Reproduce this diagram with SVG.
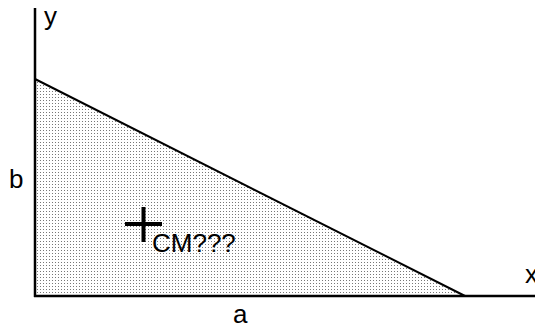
<svg xmlns="http://www.w3.org/2000/svg" width="535" height="327" viewBox="0 0 535 327">
<defs>
<pattern id="dots" x="0" y="0" width="3" height="3" patternUnits="userSpaceOnUse">
<rect x="1" y="1" width="1" height="1" fill="#777"/>
</pattern>
<style>
.lbl{font-family:"Liberation Sans",Arial,sans-serif;font-size:26px;fill:#000}
.ax{stroke:#000;stroke-width:2.5;fill:none}
</style>
</defs>
<rect width="535" height="327" fill="#fff"/>
<g id="triangle">
<polygon points="35,79 35,296 465,296" fill="url(#dots)"/>
<line x1="35" y1="79" x2="465" y2="296" stroke="#000" stroke-width="2"/>
</g>
<g id="connectors">
<line class="ax" x1="35" y1="8" x2="35" y2="297"/>
<line class="ax" x1="34" y1="296" x2="535" y2="296"/>
</g>
<g id="cm">
<path d="M125,224 H162 M143.5,207 V242" stroke="#000" stroke-width="4" fill="none"/>
<text class="lbl" x="152" y="252">CM???</text>
</g>
<g id="labels">
<text class="lbl" x="44" y="25">y</text>
<text class="lbl" x="9" y="188">b</text>
<text class="lbl" x="233" y="323">a</text>
<text class="lbl" x="525" y="283">x</text>
</g>
</svg>
